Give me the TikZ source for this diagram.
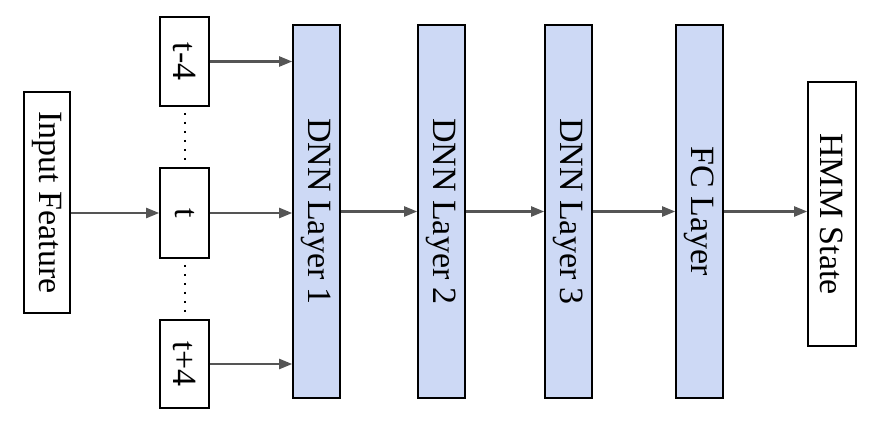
\documentclass[tikz,border=0pt]{standalone}
\usepackage{fontspec}
\setmainfont{Liberation Serif}
\usetikzlibrary{arrows.meta}
\begin{document}
\begin{tikzpicture}[x=1pt,y=-1pt,
  lbl/.style={rotate=-90,font=\fontsize{34}{34}\selectfont},
  box/.style={draw=black,line width=1.6pt,inner sep=0pt},
  layer/.style={box,fill={rgb,255:red,205;green,217;blue,245}},
  arr/.style={-{Triangle[length=13pt,width=10pt]},draw={rgb,255:red,85;green,85;blue,85},line width=2.2pt}]
\useasboundingbox (0,0) rectangle (878,428);
\node[box,minimum width=46,minimum height=221] (in) at (47,202.5) {};
\node[lbl] at (in.center) {Input Feature};
\node[box,minimum width=49,minimum height=89] (tm) at (184.5,61.5) {};
\node[lbl] at (tm.center) {t-4};
\node[box,minimum width=49,minimum height=90] (t) at (184.5,213) {};
\node[lbl] at (t.center) {t};
\node[box,minimum width=49,minimum height=88] (tp) at (184.5,364) {};
\node[lbl] at (tp.center) {t+4};
\draw[line width=2pt,dash pattern=on 2pt off 7pt] ([yshift=-6]tm.south) -- (t.north);
\draw[line width=2pt,dash pattern=on 2pt off 7pt] ([yshift=-6]t.south) -- (tp.north);
\node[layer,minimum width=47,minimum height=373] (d1) at (316.5,211.5) {};
\node[lbl] at (d1.center) {DNN Layer 1};
\node[layer,minimum width=47,minimum height=373] (d2) at (441.5,211.5) {};
\node[lbl] at (d2.center) {DNN Layer 2};
\node[layer,minimum width=47,minimum height=373] (d3) at (568.5,211.5) {};
\node[lbl] at (d3.center) {DNN Layer 3};
\node[layer,minimum width=47,minimum height=373] (fc) at (699.5,211.5) {};
\node[lbl] at (fc.center) {FC Layer};
\node[box,minimum width=48,minimum height=264] (hmm) at (832,214) {};
\node[lbl] at (hmm.center) {HMM State};
\draw[arr] (in.east |- t) -- (t.west);
\draw[arr] (tm.east) -- (d1.west |- tm);
\draw[arr] (t.east) -- (d1.west |- t);
\draw[arr] (tp.east) -- (d1.west |- tp);
\draw[arr] (d1) -- (d2);
\draw[arr] (d2) -- (d3);
\draw[arr] (d3) -- (fc);
\draw[arr] (fc.east) -- (hmm.west |- fc);
\end{tikzpicture}
\end{document}
